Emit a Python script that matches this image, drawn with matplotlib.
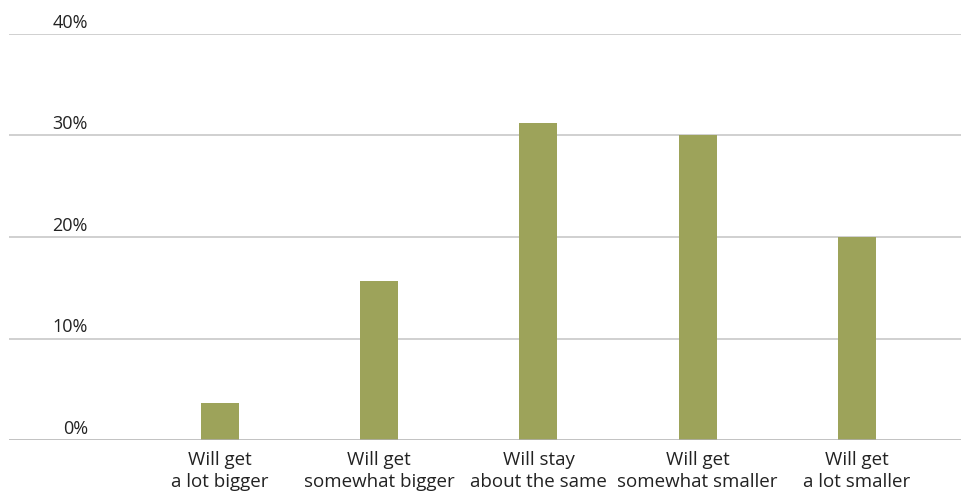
import matplotlib
matplotlib.use("Agg")
import matplotlib.pyplot as plt
import matplotlib.transforms as mtransforms

categories = ["Will get\na lot bigger", "Will get\nsomewhat bigger", "Will stay\nabout the same",
              "Will get\nsomewhat smaller", "Will get\na lot smaller"]
values = [3.6, 15.7, 31.2, 30.0, 20.0]
yticks = [0, 10, 20, 30, 40]
ytick_labels = ["0%", "10%", "20%", "30%", "40%"]

plt.rcParams['font.family'] = ['Open Sans', 'DejaVu Sans']

W, H = 962, 496
fig = plt.figure(figsize=(W / 100, H / 100), dpi=100)
ax = fig.add_axes([9 / W, 56 / H, 953 / W, 406 / H])

x = list(range(len(categories)))
ax.bar(x, values, width=38 / 159.25, color="#9da35a", zorder=3)
ax.set_xlim((9 - 220) / 159.25, (962 - 220) / 159.25)
ax.set_ylim(0, 40)

for t in yticks[1:]:
    ax.axhline(t, color="#c8c8c8", lw=1.2, zorder=1)
ax.axhline(0, color="#b0b0b0", lw=1.8, zorder=4)

for s in ax.spines.values():
    s.set_visible(False)
ax.set_yticks([])
ax.set_xticks(x)
ax.set_xticklabels(categories, fontsize=13.5, color="#222222", linespacing=1.28)
ax.tick_params(axis='x', length=0, pad=8)

trans = mtransforms.blended_transform_factory(ax.transAxes, ax.transData)
for t, lab in zip(yticks, ytick_labels):
    ax.text((88 - 9) / 953, t + 0.6, lab, transform=trans, ha='right', va='baseline',
            fontsize=13, color="#222222")

fig.savefig("out.png", dpi=100)
